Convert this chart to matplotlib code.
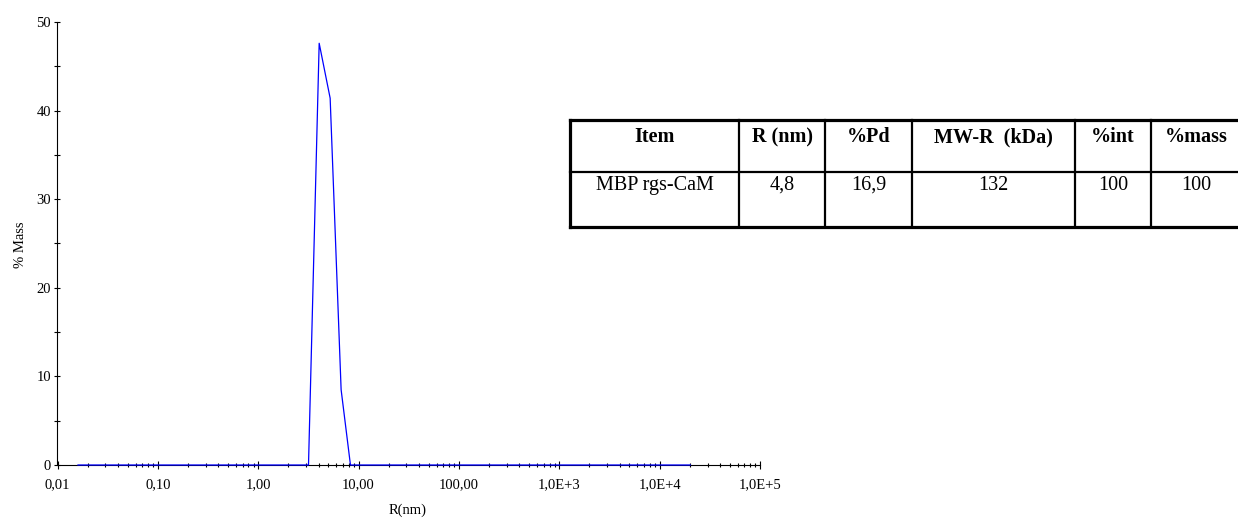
import matplotlib
matplotlib.use("Agg")
import matplotlib.pyplot as plt
from matplotlib.ticker import FixedLocator, FixedFormatter, LogLocator, NullFormatter
from matplotlib.lines import Line2D

# Mass distribution (regularization histogram)
radius_nm = [0.016, 3.17, 4.05, 5.21, 6.7, 8.3, 20200]
mass_pct = [0, 0, 47.6, 41.4, 8.5, 0, 0]

x_ticks = [1e-2, 1e-1, 1, 10, 100, 1e3, 1e4, 1e5]
x_tick_labels = ['0,01', '0,10', '1,00', '10,00', '100,00', '1,0E+3', '1,0E+4', '1,0E+5']
y_ticks = [0, 10, 20, 30, 40, 50]
y_tick_labels = ['0', '10', '20', '30', '40', '50']
y_minor_ticks = [5, 15, 25, 35, 45]

# Results table
table_header = ['Item', 'R (nm)', '%Pd', 'MW-R  (kDa)', '%int', '%mass']
table_row = ['MBP rgs-CaM', '4,8', '16,9', '132', '100', '100']

W, H = 1238, 519
SERIF = 'Liberation Serif'

fig = plt.figure(figsize=(W / 100, H / 100), dpi=100)


def fx(px):
    return px / W


def fy(py):
    return 1 - py / H


ax = fig.add_axes([fx(57.5), fy(465), fx(760) - fx(57.5), fy(22) - fy(465)])
ax.plot(radius_nm, mass_pct, color='#0000ff', lw=0.9, clip_on=False, zorder=5)

ax.set_xscale('log')
ax.set_xlim(1e-2, 1e5)
ax.set_ylim(0, 50)

for side in ('top', 'right'):
    ax.spines[side].set_visible(False)
for side in ('left', 'bottom'):
    ax.spines[side].set_linewidth(0.8)
    ax.spines[side].set_color('black')

ax.xaxis.set_major_locator(FixedLocator(x_ticks))
ax.xaxis.set_major_formatter(FixedFormatter(x_tick_labels))
ax.xaxis.set_minor_locator(LogLocator(base=10, subs=range(2, 10), numticks=20))
ax.xaxis.set_minor_formatter(NullFormatter())
ax.yaxis.set_major_locator(FixedLocator(y_ticks))
ax.yaxis.set_major_formatter(FixedFormatter(y_tick_labels))
ax.yaxis.set_minor_locator(FixedLocator(y_minor_ticks))

ax.tick_params(axis='x', which='major', direction='inout', length=5.5, width=0.8,
               pad=7, labelsize=10.5)
ax.tick_params(axis='x', which='minor', direction='inout', length=3, width=0.8)
ax.tick_params(axis='y', which='major', direction='inout', length=4.5, width=0.8,
               pad=2.5, labelsize=10.5)
ax.tick_params(axis='y', which='minor', direction='inout', length=4, width=0.8)
for lbl in ax.get_xticklabels() + ax.get_yticklabels():
    lbl.set_fontfamily(SERIF)

fig.text(fx(408), fy(510), 'R(nm)', ha='center', va='center',
         fontsize=10.5, family=SERIF)
fig.text(fx(20), fy(245), '% Mass', ha='center', va='center', rotation=90,
         fontsize=10.5, family=SERIF)

# Table drawn in figure pixel coordinates
col_edges = [570, 739, 825, 912, 1075, 1151, 1241]
row_edges = [120, 171.5, 226.5]
outer_lw, inner_lw = 2.3, 1.6

def hline(y, x0, x1, lw):
    fig.add_artist(Line2D([fx(x0), fx(x1)], [fy(y), fy(y)], color='black', lw=lw,
                          solid_capstyle='projecting'))


def vline(x, y0, y1, lw):
    fig.add_artist(Line2D([fx(x), fx(x)], [fy(y0), fy(y1)], color='black', lw=lw,
                          solid_capstyle='projecting'))


hline(row_edges[0], col_edges[0], col_edges[-1], outer_lw)
hline(row_edges[-1], col_edges[0], col_edges[-1], outer_lw)
hline(row_edges[1], col_edges[0], col_edges[-1], inner_lw)
vline(col_edges[0], row_edges[0], row_edges[-1], outer_lw)
vline(col_edges[-1], row_edges[0], row_edges[-1], outer_lw)
for x in col_edges[1:-1]:
    vline(x, row_edges[0], row_edges[-1], inner_lw)

for i, (head, val) in enumerate(zip(table_header, table_row)):
    cx = (col_edges[i] + col_edges[i + 1]) / 2
    fig.text(fx(cx), fy(142), head, ha='center', va='baseline', fontsize=14.5,
             fontweight='bold', family=SERIF)
    fig.text(fx(cx), fy(190), val, ha='center', va='baseline', fontsize=14.5,
             family=SERIF)

fig.savefig('out.png', dpi=100)
